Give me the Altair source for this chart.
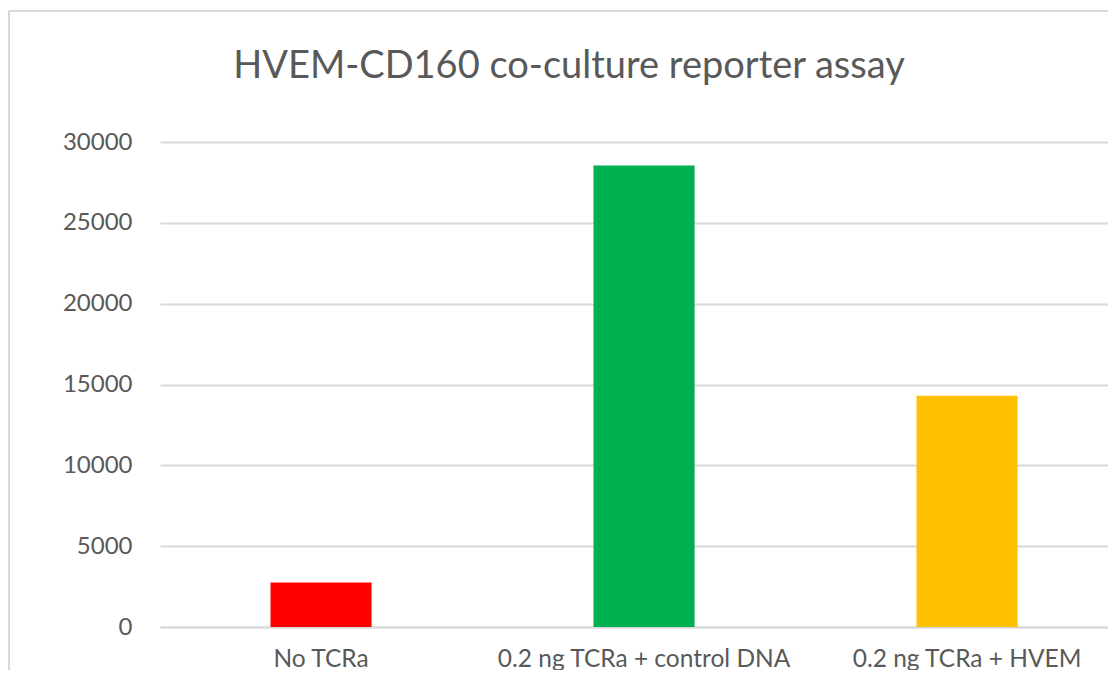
import altair as alt
import pandas as pd

categories = ["No TCRa", "0.2 ng TCRa + control DNA", "0.2 ng TCRa + HVEM"]
values = [2750, 28550, 14300]
colors = ["#FF0000", "#00B050", "#FFC000"]
y_ticks = [0, 5000, 10000, 15000, 20000, 25000, 30000]

df = pd.DataFrame({"cat": categories, "val": values, "color": colors})

W, H = 948, 485
FONT = "Lato"
TXT = "#595959"
GRID = "#d9d9d9"

bars = alt.Chart(df).mark_bar().encode(
    x=alt.X(
        "cat:N", sort=categories, title=None,
        scale=alt.Scale(paddingInner=0.687, paddingOuter=0.311, align=0.55),
        axis=alt.Axis(labelAngle=0, labelFont=FONT, labelFontSize=24.5, labelColor=TXT,
                      ticks=False, domainColor=GRID, domainWidth=2, labelPadding=39,
                      labelBaseline="alphabetic", labelLimit=0),
    ),
    y=alt.Y(
        "val:Q", title=None, scale=alt.Scale(domain=[0, 30000], nice=False),
        axis=alt.Axis(values=y_ticks, labelFont=FONT, labelFontSize=24, labelColor=TXT,
                      ticks=False, domain=False, gridColor=GRID, gridWidth=2,
                      labelPadding=28, format="d"),
    ),
    color=alt.Color("color:N", scale=None),
)

border_df = pd.DataFrame({"k": [0]})
left_border = alt.Chart(border_df).mark_rule(color=GRID, strokeWidth=2).encode(
    x=alt.value(-151), y=alt.value(-131), y2=alt.value(H + 60)
)
top_border = alt.Chart(border_df).mark_rule(color=GRID, strokeWidth=2).encode(
    x=alt.value(-151), x2=alt.value(W + 20), y=alt.value(-131)
)

chart = alt.layer(left_border, top_border, bars).properties(
    width=W, height=H,
    autosize=alt.AutoSizeParams(type="none"),
    padding={"left": 152, "top": 134, "right": 0, "bottom": 43},
    title=alt.TitleParams(
        "HVEM-CD160 co-culture reporter assay", font=FONT, fontSize=38,
        fontWeight="normal", color=TXT, anchor="middle", dx=-65,
        baseline="alphabetic", offset=0, dy=106,
    ),
).configure_view(stroke=None)

chart.save("out.html", embed_options={"renderer": "svg", "actions": False})
